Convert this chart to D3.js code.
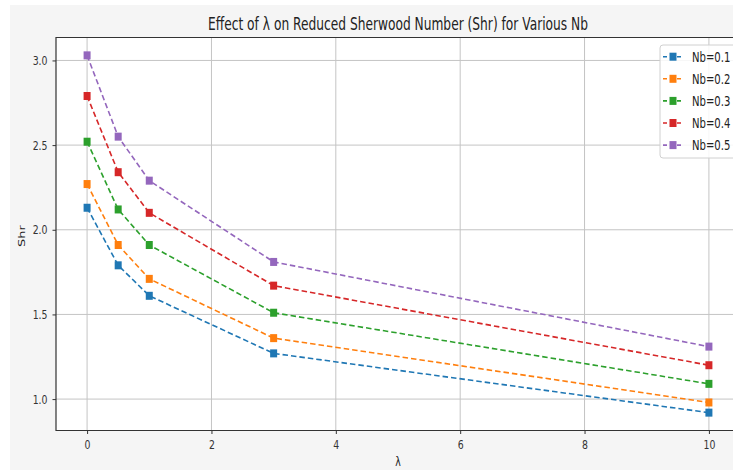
<!DOCTYPE html>
<html>
<head>
<meta charset="utf-8">
<script src="https://cdn.jsdelivr.net/npm/d3@7"></script>
<style>
  body { margin: 0; background: #fff; }
  svg { display: block; font-family: "DejaVu Sans", sans-serif; }
</style>
</head>
<body>
<svg id="chart" width="733" height="470"></svg>
<script>
// values
const lambdas = [0, 0.5, 1, 3, 10];
const nbLabels = ["Nb=0.1", "Nb=0.2", "Nb=0.3", "Nb=0.4", "Nb=0.5"];
const shrNb01 = [2.13, 1.79, 1.61, 1.27, 0.92];
const shrNb02 = [2.27, 1.91, 1.71, 1.36, 0.98];
const shrNb03 = [2.52, 2.12, 1.91, 1.51, 1.09];
const shrNb04 = [2.79, 2.34, 2.10, 1.67, 1.20];
const shrNb05 = [3.03, 2.55, 2.29, 1.81, 1.31];
const xTicks = [0, 2, 4, 6, 8, 10];
const yTicks = [1.0, 1.5, 2.0, 2.5, 3.0];

const COLORS = ["#1f77b4", "#ff7f0e", "#2ca02c", "#d62728", "#9467bd"];
const SX = 0.72;   // the picture is squeezed sideways, so is its text

const series = [shrNb01, shrNb02, shrNb03, shrNb04, shrNb05].map((vals, i) => ({
    name: nbLabels[i],
    color: COLORS[i],
    points: vals.map((v, j) => ({ x: lambdas[j], y: v }))
}));

const svg = d3.select("#chart");
const M = { left: 56, right: 740, top: 37.5, bottom: 430.5 };

svg.append("rect")
    .attr("x", 10).attr("y", 5)
    .attr("width", 723).attr("height", 465)
    .attr("fill", "#f5f5f5");

svg.append("rect")
    .attr("x", M.left).attr("y", M.top)
    .attr("width", M.right - M.left).attr("height", M.bottom - M.top)
    .attr("fill", "#fff");

// matplotlib style 5% margins
const xExt = d3.extent(lambdas);
const xPad = (xExt[1] - xExt[0]) * 0.05;
const x = d3.scaleLinear().domain([xExt[0] - xPad, xExt[1] + xPad]).range([M.left, M.right]);

const allY = series.flatMap((s) => s.points.map((p) => p.y));
const yExt = d3.extent(allY);
const yPad = (yExt[1] - yExt[0]) * 0.05;
const y = d3.scaleLinear().domain([yExt[0] - yPad, yExt[1] + yPad]).range([M.bottom, M.top]);

// grid
const grid = svg.append("g").attr("stroke", "#c4c4c4").attr("stroke-width", 1);
grid.selectAll(".gx").data(xTicks).enter().append("line")
    .attr("x1", (d) => x(d)).attr("x2", (d) => x(d))
    .attr("y1", M.top).attr("y2", M.bottom);
grid.selectAll(".gy").data(yTicks).enter().append("line")
    .attr("x1", M.left).attr("x2", M.right)
    .attr("y1", (d) => y(d)).attr("y2", (d) => y(d));

// axes
const xAxis = svg.append("g")
    .attr("transform", `translate(0,${M.bottom})`)
    .call(d3.axisBottom(x).tickValues(xTicks).tickFormat(d3.format("d")).tickSize(3.5).tickPadding(6));
const yAxis = svg.append("g")
    .attr("transform", `translate(${M.left},0)`)
    .call(d3.axisLeft(y).tickValues(yTicks).tickFormat(d3.format(".1f")).tickSize(3.5).tickPadding(4));

[xAxis, yAxis].forEach((ax) => {
    ax.select(".domain").remove();
    ax.selectAll(".tick line").attr("stroke", "#333");
    ax.selectAll(".tick text")
        .attr("fill", "#333")
        .style("font-size", "13px")
        .style("font-family", "DejaVu Sans, sans-serif");
});
yAxis.selectAll(".tick text")
    .attr("x", -8.5 / SX)
    .attr("transform", `scale(${SX},1)`);
xAxis.selectAll(".tick text").attr("transform", `scale(${SX},1)`);

// spines
svg.append("path")
    .attr("d", `M${M.right},${M.top}H${M.left}V${M.bottom}H${M.right}`)
    .attr("fill", "none")
    .attr("stroke", "#333")
    .attr("stroke-width", 1.2);

// lines + markers
const line = d3.line().x((d) => x(d.x)).y((d) => y(d.y));
const MS = 7;

const plot = svg.append("g");
series.forEach((s) => {
    plot.append("path")
        .datum(s.points)
        .attr("d", line)
        .attr("fill", "none")
        .attr("stroke", s.color)
        .attr("stroke-width", 1.6)
        .attr("stroke-dasharray", "5.5,3");
    plot.selectAll(null).data(s.points).enter().append("rect")
        .attr("x", (d) => x(d.x) - MS / 2)
        .attr("y", (d) => y(d.y) - (MS + 1) / 2)
        .attr("width", MS).attr("height", MS + 1)
        .attr("fill", s.color);
});

// title and axis labels
function label(txt, tx, ty, size, rot) {
    return svg.append("text")
        .attr("transform", `translate(${tx},${ty}) scale(${SX},1)` + (rot ? ` rotate(${rot})` : ""))
        .attr("text-anchor", "middle")
        .attr("fill", "#222")
        .style("font-size", size + "px")
        .text(txt);
}
label("Effect of λ on Reduced Sherwood Number (Shr) for Various Nb", (M.left + M.right) / 2, 29.5, 17);
label("Shr", 25, 236, 13, -90);
label("λ", (M.left + M.right) / 2, 466, 13);

// legend
const lg = svg.append("g").attr("transform", "translate(660,45)");
lg.append("rect")
    .attr("width", 90).attr("height", 113)
    .attr("rx", 3)
    .attr("fill", "#fff").attr("fill-opacity", 0.85)
    .attr("stroke", "#d0d0d0");
const entry = lg.selectAll(".entry").data(series).enter().append("g")
    .attr("transform", (d, i) => `translate(0,${11.7 + i * 22.1})`);
entry.append("line")
    .attr("x1", 3).attr("x2", 21)
    .attr("stroke", (d) => d.color)
    .attr("stroke-width", 1.6)
    .attr("stroke-dasharray", "4,3");
entry.append("rect")
    .attr("x", 13 - MS / 2).attr("y", -(MS + 1) / 2)
    .attr("width", MS).attr("height", MS + 1)
    .attr("fill", (d) => d.color);
entry.append("text")
    .attr("transform", `translate(32,4.8) scale(${SX},1)`)
    .attr("fill", "#222")
    .style("font-size", "14px")
    .text((d) => d.name);
</script>
</body>
</html>
